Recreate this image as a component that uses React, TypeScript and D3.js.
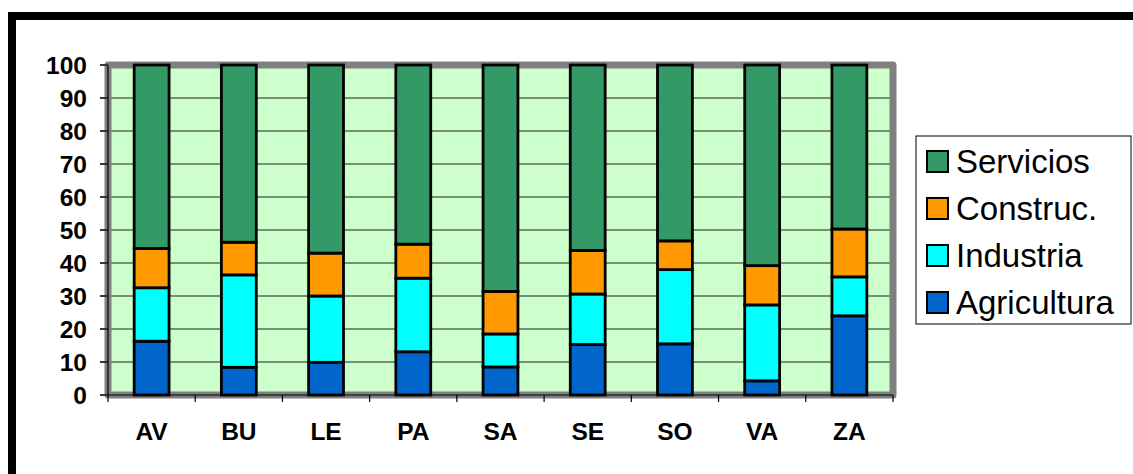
import React from "react";
import * as d3 from "d3";

// provinces and sector shares (%)
const provinces = ["AV", "BU", "LE", "PA", "SA", "SE", "SO", "VA", "ZA"];
const agricultura = [16.3, 8.4, 9.9, 13.1, 8.5, 15.3, 15.5, 4.3, 24.0];
const industria = [16.2, 28.0, 20.1, 22.3, 10.0, 15.3, 22.5, 23.0, 11.8];
const construc = [11.9, 9.9, 13.0, 10.3, 12.9, 13.2, 8.7, 11.9, 14.5];
const servicios = [55.6, 53.7, 57.0, 54.3, 68.6, 56.2, 53.3, 60.8, 49.7];
const yTicks = [0, 10, 20, 30, 40, 50, 60, 70, 80, 90, 100];

const seriesNames = ["Agricultura", "Industria", "Construc.", "Servicios"];
const seriesColors = ["#0066CC", "#00FFFF", "#FF9900", "#339966"];

export default function App() {
  const W = 1133,
    H = 474;
  const plot = { left: 108, top: 65, right: 893, bottom: 395 };

  const rows = provinces.map((p, i) => ({
    p,
    Agricultura: agricultura[i],
    Industria: industria[i],
    "Construc.": construc[i],
    Servicios: servicios[i],
  }));
  const stacked = d3.stack<any>().keys(seriesNames)(rows);

  const x = d3
    .scaleBand()
    .domain(provinces)
    .range([plot.left, plot.right])
    .paddingInner(0.6)
    .paddingOuter(0.3);
  const y = d3.scaleLinear().domain([0, 100]).range([plot.bottom, plot.top]);
  const step = x.step();

  const legendOrder = [3, 2, 1, 0];

  return (
    <svg
      width={W}
      height={H}
      style={{ position: "absolute", left: 0, top: 0 }}
      fontFamily="'Liberation Sans', Arial, sans-serif"
    >
      <rect width={W} height={H} fill="#fff" />
      {/* outer frame, clipped at right and bottom */}
      <rect x={12} y={16} width={W + 20} height={H + 20} fill="none" stroke="#000" strokeWidth={8} />

      {/* plot wall */}
      <rect
        x={plot.left}
        y={plot.top}
        width={plot.right - plot.left}
        height={plot.bottom - plot.top}
        fill="#CCFFCC"
      />
      {yTicks.map((t) => (
        <line key={t} x1={plot.left - 8} x2={plot.right} y1={y(t)} y2={y(t)} stroke="#222" strokeWidth={1} />
      ))}
      <rect
        x={plot.left}
        y={plot.top}
        width={plot.right - plot.left}
        height={plot.bottom - plot.top}
        fill="none"
        stroke="#808080"
        strokeWidth={7}
        strokeLinejoin="round"
      />
      {/* axes */}
      <line x1={plot.left} x2={plot.left} y1={plot.top} y2={plot.bottom} stroke="#000" strokeWidth={1.2} />
      <line x1={plot.left} x2={plot.right} y1={plot.bottom} y2={plot.bottom} stroke="#000" strokeWidth={1.2} />
      {yTicks.map((t) => (
        <line key={"yt" + t} x1={plot.left - 8} x2={plot.left} y1={y(t)} y2={y(t)} stroke="#000" strokeWidth={1.2} />
      ))}
      {d3.range(provinces.length + 1).map((i) => (
        <line
          key={"xt" + i}
          x1={plot.left + i * step}
          x2={plot.left + i * step}
          y1={plot.bottom}
          y2={plot.bottom + 7}
          stroke="#000"
          strokeWidth={1.2}
        />
      ))}

      {/* bars */}
      {stacked.map((s, si) =>
        s.map((d, i) => (
          <rect
            key={s.key + i}
            x={x(provinces[i])!}
            y={y(d[1])}
            width={x.bandwidth()}
            height={y(d[0]) - y(d[1])}
            fill={seriesColors[si]}
            stroke="#000"
            strokeWidth={2.8}
          />
        ))
      )}

      {/* y labels */}
      {yTicks.map((t) => (
        <text
          key={"yl" + t}
          x={87}
          y={y(t)}
          dy="0.36em"
          textAnchor="end"
          fontWeight="bold"
          fontSize={24.5}
        >
          {t}
        </text>
      ))}
      {/* x labels */}
      {provinces.map((p) => (
        <text
          key={"xl" + p}
          x={x(p)! + x.bandwidth() / 2}
          y={440}
          textAnchor="middle"
          fontWeight="bold"
          fontSize={24.5}
        >
          {p}
        </text>
      ))}

      {/* legend */}
      <rect x={916} y={136} width={215} height={188} fill="#fff" stroke="#000" strokeWidth={1} />
      {legendOrder.map((si, k) => {
        const cy = 161.5 + k * 47;
        return (
          <g key={"lg" + si}>
            <rect
              x={927}
              y={cy - 10.5}
              width={21}
              height={21}
              fill={seriesColors[si]}
              stroke="#000"
              strokeWidth={2}
            />
            <text x={956} y={cy} dy="0.36em" fontSize={33}>
              {seriesNames[si]}
            </text>
          </g>
        );
      })}
    </svg>
  );
}
